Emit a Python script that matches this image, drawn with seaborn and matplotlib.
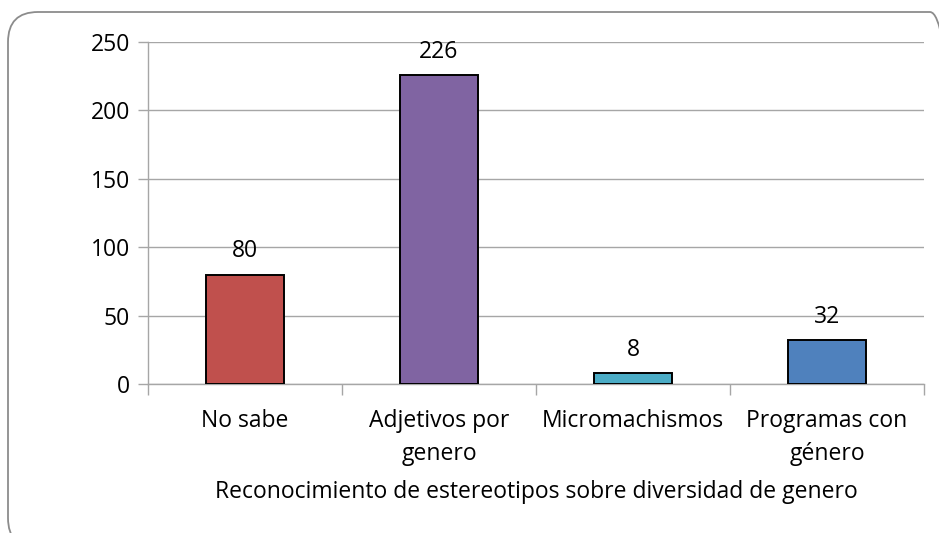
import matplotlib
matplotlib.use("Agg")
import matplotlib.pyplot as plt
from matplotlib.patches import FancyBboxPatch
import seaborn as sns
import pandas as pd

# data
categorias = ["No sabe", "Adjetivos por\ngenero", "Micromachismos", "Programas con\ngénero"]
valores = [80, 226, 8, 32]
colores = ["#C0504D", "#8064A2", "#4BACC6", "#4F81BD"]
yticks = [0, 50, 100, 150, 200, 250]
xlabel = "Reconocimiento de estereotipos sobre diversidad de genero"

sns.set_style("white")
plt.rcParams["font.family"] = ["Open Sans", "DejaVu Sans"]
plt.rcParams["text.color"] = "black"
plt.rcParams["xtick.color"] = "black"
plt.rcParams["ytick.color"] = "black"
plt.rcParams["axes.labelcolor"] = "black"

FS = 16.5

df = pd.DataFrame({"cat": categorias, "val": valores})

fig = plt.figure(figsize=(9.39, 5.33), dpi=100)
ax = fig.add_axes([0.1576, 0.2795, 0.8265, 0.6417])

# rounded chart frame (inches), cut off at right/bottom like the original
frame = FancyBboxPatch((0.08, -0.15), 9.52, 5.36,
                       boxstyle="round,pad=0,rounding_size=0.3",
                       transform=fig.dpi_scale_trans, fill=False,
                       edgecolor="#8C8C8C", linewidth=1.3)
fig.patches.append(frame)

sns.barplot(data=df, x="cat", y="val", hue="cat", palette=colores, legend=False,
            width=0.4, saturation=1, edgecolor="black", linewidth=1.4, ax=ax, zorder=3)

ax.set_xlim(-0.5, len(categorias) - 0.5)
ax.set_ylim(0, 250)
ax.set_yticks(yticks)
ax.yaxis.grid(True, color="#A6A6A6", linewidth=1)
ax.set_axisbelow(True)

for s in ["top", "right"]:
    ax.spines[s].set_visible(False)
for s in ["left", "bottom"]:
    ax.spines[s].set_color("#A6A6A6")
    ax.spines[s].set_linewidth(1)

ax.tick_params(axis="y", left=True, length=7, width=1, color="#A6A6A6",
               labelsize=FS, labelcolor="black", pad=6)
ax.set_xticks(range(len(categorias)))
ax.set_xticklabels(categorias, linespacing=1.5)
ax.tick_params(axis="x", which="major", length=0, labelsize=FS, labelcolor="black", pad=18)
# category separators on x axis
ax.set_xticks([i - 0.5 for i in range(len(categorias) + 1)], minor=True)
ax.tick_params(axis="x", which="minor", bottom=True, length=8, width=1,
               color="#A6A6A6", direction="out")

for i, v in enumerate(valores):
    ax.annotate(str(v), (i, v), xytext=(0, 8), textcoords="offset points",
                ha="center", va="bottom", fontsize=FS)

ax.set_ylabel("")
ax.set_xlabel(xlabel, fontsize=FS, labelpad=10)

fig.savefig("out.png", dpi=100)
